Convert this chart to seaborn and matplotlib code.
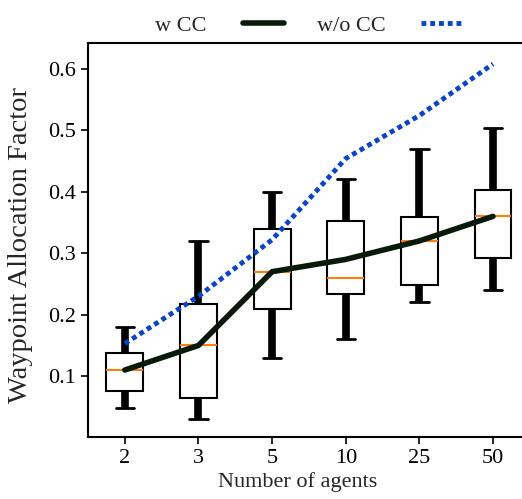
import numpy as np
import pandas as pd
import matplotlib
matplotlib.use("Agg")
import matplotlib.pyplot as plt
import seaborn as sns

categories = ["2", "3", "5", "10", "25", "50"]
# five-number summaries per category: whisker low, Q1, median, Q3, whisker high
whisker_low = [0.049, 0.030, 0.130, 0.160, 0.220, 0.240]
q1 = [0.076, 0.065, 0.210, 0.233, 0.249, 0.293]
median = [0.110, 0.150, 0.270, 0.260, 0.320, 0.360]
q3 = [0.138, 0.218, 0.339, 0.353, 0.359, 0.403]
whisker_high = [0.180, 0.320, 0.400, 0.420, 0.470, 0.504]

w_cc = [0.110, 0.150, 0.270, 0.290, 0.320, 0.360]
wo_cc = [0.153, 0.230, 0.322, 0.454, 0.524, 0.608]

sns.set_style("ticks")
plt.rcParams["font.family"] = ["Liberation Serif", "DejaVu Serif"]

rows = []
for c, a, b, m, d, e in zip(categories, whisker_low, q1, median, q3, whisker_high):
    for v in (a, b, m, d, e):
        rows.append({"agents": c, "value": v})
df = pd.DataFrame(rows)

fig = plt.figure(figsize=(5.22, 4.99), dpi=100)
ax = fig.add_axes([0.1686, 0.1242, 0.8464, 0.7896])

sns.boxplot(data=df, x="agents", y="value", order=categories, ax=ax,
            width=0.5, whis=1.5, fill=True, color="white", linecolor="black",
            linewidth=1.5, showfliers=False,
            boxprops=dict(facecolor="white", edgecolor="black", linewidth=1.5),
            whiskerprops=dict(color="black", linewidth=5.5),
            capprops=dict(color="black", linewidth=2),
            medianprops=dict(color="#ff7f0e", linewidth=1.5))

pos = np.arange(len(categories))
sns.lineplot(x=pos, y=w_cc, ax=ax, color="#0a1a0a", linewidth=4, label="w CC",
             zorder=5)
sns.lineplot(x=pos, y=wo_cc, ax=ax, color="#0b44c4", linewidth=3.5,
             linestyle=(0, (1, 0.8)), label="w/o CC", zorder=5)

ax.set_xlim(-0.5, 5.5)
ax.set_ylim(0.001, 0.642)
ax.set_yticks([0.1, 0.2, 0.3, 0.4, 0.5, 0.6])
ax.set_xticks(pos)
ax.set_xticklabels(categories)
ax.tick_params(labelsize=16, width=1.2, length=5, colors="black")
ax.set_xlabel("Number of agents", fontsize=16)
ax.set_ylabel("Waypoint Allocation Factor", fontsize=20.5)
ax.xaxis.set_label_coords(0.474, -0.09)
ax.yaxis.set_label_coords(-0.125, 0.487)
for s in ax.spines.values():
    s.set_visible(True)
    s.set_linewidth(1.5)
    s.set_color("black")

ax.legend(loc="lower center", bbox_to_anchor=(0.5, 0.968), ncol=2, frameon=False,
          markerfirst=False, fontsize=16, handlelength=1.85, columnspacing=1.5,
          handletextpad=1.6)

fig.savefig("out.png", dpi=100)
